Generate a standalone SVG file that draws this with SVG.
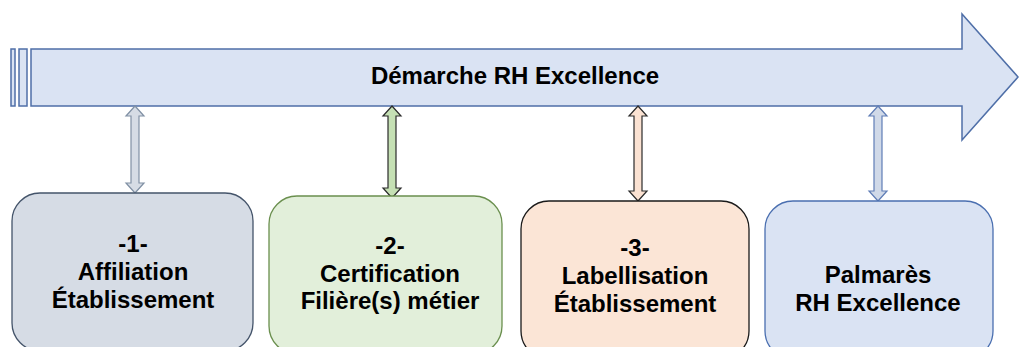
<svg xmlns="http://www.w3.org/2000/svg" width="1019" height="347" viewBox="0 0 1019 347">
<style>
  text { font-family: "Liberation Sans", Arial, sans-serif; font-weight: bold; font-size: 24px; fill: #000; text-anchor: middle; }
  .main { fill: #DAE3F3; stroke: #4F6FA8; stroke-width: 1.5; }
  .box { stroke-width: 1.3; }
  .dbl { stroke-width: 1.2; stroke-linejoin: miter; }
</style>
<rect width="1019" height="347" fill="#FFFFFF"/>
<g id="timeline">
  <rect class="main" x="11" y="49" width="4" height="57"/>
  <rect class="main" x="19" y="49" width="8" height="57"/>
  <polygon class="main" points="31,49 962,49 962,14 1018,77 962,140 962,106 31,106"/>
  <text x="515" y="84">Démarche RH Excellence</text>
</g>
<g id="connectors">
  <polygon class="dbl" fill="#D6DCE5" stroke="#8090A4" points="135,106 144,116 139,116 139,183 144,183 135,193 126,183 131,183 131,116 126,116"/>
  <polygon class="dbl" fill="#C5E0B4" stroke="#2B2B2B" points="392,106 401,116 396,116 396,188 401,188 392,198 383,188 388,188 388,116 383,116"/>
  <polygon class="dbl" fill="#FBE2D2" stroke="#2B2B2B" points="638,106 647,116 642,116 642,191 647,191 638,201 629,191 634,191 634,116 629,116"/>
  <polygon class="dbl" fill="#D0D9E8" stroke="#5F7DB6" points="878,106 887,116 882,116 882,191 887,191 878,201 869,191 874,191 874,116 869,116"/>
</g>
<g id="node1">
  <rect class="box" x="12" y="193" width="241" height="158" rx="28" fill="#D6DCE5" stroke="#44546A"/>
  <text x="133" y="252">-1-</text>
  <text x="133" y="280">Affiliation</text>
  <text x="133" y="308">Établissement</text>
</g>
<g id="node2">
  <rect class="box" x="269" y="196" width="233" height="158" rx="28" fill="#E2EFDA" stroke="#6A8F4E"/>
  <text x="390" y="254">-2-</text>
  <text x="390" y="282">Certification</text>
  <text x="390" y="309">Filière(s) métier</text>
</g>
<g id="node3">
  <rect class="box" x="521" y="201" width="228" height="158" rx="28" fill="#FBE5D6" stroke="#1A1A1A"/>
  <text x="635" y="256">-3-</text>
  <text x="635" y="284">Labellisation</text>
  <text x="635" y="312">Établissement</text>
</g>
<g id="node4">
  <rect class="box" x="765" y="201" width="228" height="158" rx="28" fill="#DAE3F3" stroke="#4A6FB0"/>
  <text x="878" y="283">Palmarès</text>
  <text x="878" y="311">RH Excellence</text>
</g>
</svg>
